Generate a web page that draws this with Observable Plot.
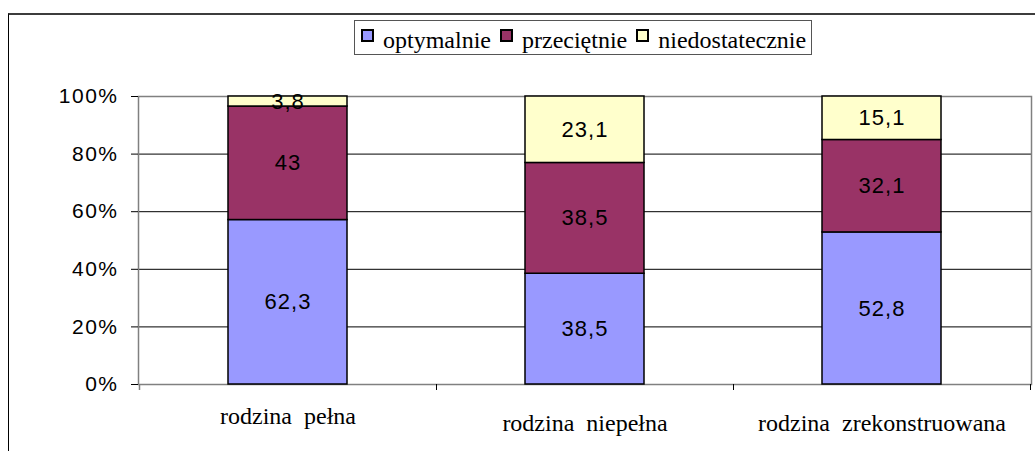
<!DOCTYPE html>
<html>
<head>
<meta charset="utf-8">
<script src="https://cdn.jsdelivr.net/npm/d3@7"></script>
<script src="https://cdn.jsdelivr.net/npm/@observablehq/plot@0.6"></script>
<style>
  html, body { margin: 0; padding: 0; background: #fff; }
  #wrap { position: relative; width: 1035px; height: 451px; overflow: hidden; background: #fff; }
  #outer { position: absolute; left: 8px; top: 13px; width: 1200px; height: 600px;
           border-top: 2px solid #3c3c3c; border-left: 1px solid #000; }
  #chart { position: absolute; left: 0; top: 60px; }
  #legend { position: absolute; left: 354px; top: 20px; width: 456px; height: 33px;
            border: 1px solid #555; background: #fff; box-sizing: content-box; overflow: visible; }
  #legend .lg-swatches { margin: 0; padding: 0 0 0 7px; min-height: 33px;
            font-family: "Liberation Serif", serif; font-size: 24px; color: #000; flex-wrap: nowrap; }
  #legend .lg-swatch { margin-right: 10px; align-items: center; padding-top: 5px; white-space: nowrap; }
  #legend .lg-swatch > svg { margin-right: 10px; position: relative; top: -5px; overflow: visible; }
  #legend .lg-swatch > svg rect { stroke: #000; stroke-width: 2px; }
  #chart g[font-family="Liberation Serif"] text { word-spacing: 6px; }
  #chart g.ytick text { letter-spacing: 1.5px; }
  #chart g.vlabel text { letter-spacing: 1px; }
</style>
</head>
<body>
<div id="wrap">
  <div id="outer"></div>
  <div id="legend"></div>
  <div id="chart"></div>
</div>
<script>
// ---- data ----
const categories = ["rodzina pełna", "rodzina niepełna", "rodzina zrekonstruowana"];
const series = ["optymalnie", "przeciętnie", "niedostatecznie"];
const optymalnie = [62.3, 38.5, 52.8];
const przecietnie = [43, 38.5, 32.1];
const niedostatecznie = [3.8, 23.1, 15.1];
const yTicks = [0, 0.2, 0.4, 0.6, 0.8, 1];
const yTickLabels = ["0%", "20%", "40%", "60%", "80%", "100%"];
const colors = ["#9999FF", "#993366", "#FFFFCC"];

const seriesValues = [optymalnie, przecietnie, niedostatecznie];
const data = categories.flatMap((c, i) =>
  series.map((s, j) => ({category: c, series: s, value: seriesValues[j][i]}))
);
const fmt = v => String(v).replace(".", ",");

// tick marks at category boundaries, using the band scale
function boundaryTicks(index, scales, values, dimensions) {
  const x = scales.x, y = scales.y;
  const bw = typeof x.bandwidth === "function" ? x.bandwidth() : x.bandwidth;
  const step = typeof x.step === "function" ? x.step()
    : (dimensions.width - dimensions.marginLeft - dimensions.marginRight) / categories.length;
  const half = (step - bw) / 2;
  const edges = categories.map(c => x(c) - half);
  edges.push(x(categories[categories.length - 1]) + bw + half);
  const y0 = y(0);
  const g = d3.create("svg:g");
  g.selectAll("line").data(edges).join("line")
    .attr("x1", d => Math.round(d) + 0.5).attr("x2", d => Math.round(d) + 0.5)
    .attr("y1", y0).attr("y2", y0 + 6)
    .attr("stroke", (d, i) => i === 0 ? "#808080" : "#000")
    .attr("stroke-width", (d, i) => i === 0 ? 1.5 : 1);
  return g.node();
}

const chart = Plot.plot({
  width: 1035,
  height: 391,
  marginLeft: 138,
  marginRight: 4,
  marginTop: 36,
  marginBottom: 67,
  style: {background: "transparent", overflow: "visible"},
  x: {domain: categories, paddingInner: 0.6, paddingOuter: 0.3},
  y: {domain: [0, 1]},
  color: {domain: series, range: colors},
  marks: [
    Plot.ruleY(yTicks.slice(1, -1), {stroke: "#000", strokeWidth: 1}),
    Plot.frame({stroke: "#808080", strokeWidth: 1.5}),
    Plot.axisY(yTicks, {
      tickFormat: d => yTickLabels[yTicks.indexOf(d)],
      tickSize: 7, tickPadding: 13, fontSize: 21, fontFamily: "Liberation Sans",
      stroke: "#000", fill: "#000", label: null, className: "ytick"
    }),
    Plot.barY(data, Plot.stackY({
      x: "category", y: "value", z: "series", fill: "series",
      offset: "normalize", stroke: "#000", strokeWidth: 1.5
    })),
    Plot.text(data, Plot.stackY({
      x: "category", y: "value", z: "series", offset: "normalize",
      text: d => fmt(d.value), fontSize: 22, fontFamily: "Liberation Sans",
      fill: "#000", className: "vlabel"
    })),
    boundaryTicks,
    Plot.axisX([categories[0]], {
      tickSize: 0, tickPadding: 22, fontSize: 24, fontFamily: "Liberation Serif",
      fill: "#000", label: null
    }),
    Plot.axisX(categories.slice(1), {
      tickSize: 0, tickPadding: 29, fontSize: 24, fontFamily: "Liberation Serif",
      fill: "#000", label: null
    })
  ]
});
document.getElementById("chart").appendChild(chart);

const legend = Plot.legend({
  color: {domain: series, range: colors},
  legend: "swatches",
  swatchSize: 11,
  className: "lg"
});
document.getElementById("legend").appendChild(legend);
</script>
</body>
</html>
